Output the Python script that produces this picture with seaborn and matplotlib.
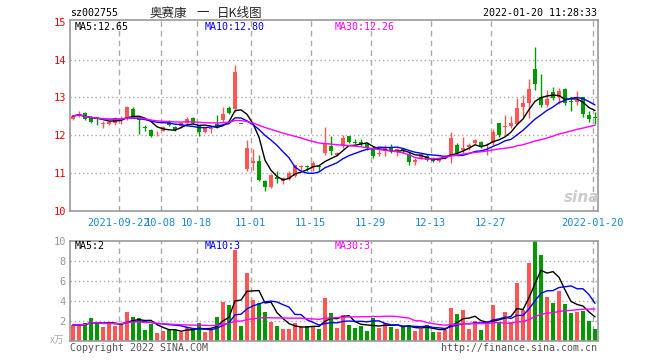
import numpy as np
import pandas as pd
import matplotlib
matplotlib.use('Agg')
import matplotlib.pyplot as plt
import seaborn as sns

# daily candles, oldest first
opens = [12.42, 12.54, 12.59, 12.45, 12.41, 12.30, 12.30, 12.32, 12.41, 12.45,
         12.70, 12.49, 12.21, 12.14, 12.02, 12.12, 12.38, 12.22, 12.24, 12.33,
         12.45, 12.27, 12.09, 12.17, 12.30, 12.40, 12.73, 12.69, 12.30, 11.10,
         11.27, 11.32, 10.79, 10.62, 10.88, 10.79, 10.83, 10.92, 11.17, 11.19,
         11.15, 11.18, 11.52, 11.71, 11.48, 11.72, 11.98, 11.83, 11.83, 11.79,
         11.65, 11.49, 11.58, 11.70, 11.56, 11.63, 11.49, 11.28, 11.39, 11.46,
         11.37, 11.32, 11.40, 11.48, 11.74, 11.61, 11.68, 11.80, 11.82, 11.73,
         11.78, 12.33, 12.21, 12.24, 12.29, 12.75, 12.84, 13.75, 13.02, 12.80,
         13.14, 13.02, 13.22, 12.90, 12.89, 13.02, 12.54, 12.47]
closes = [12.51, 12.56, 12.44, 12.36, 12.39, 12.32, 12.36, 12.45, 12.43, 12.74,
          12.49, 12.40, 12.19, 11.99, 12.04, 12.22, 12.27, 12.14, 12.33, 12.42,
          12.32, 12.09, 12.18, 12.19, 12.24, 12.56, 12.60, 13.66, 12.29, 11.65,
          11.32, 10.81, 10.62, 10.95, 10.84, 10.86, 11.01, 11.21, 11.19, 11.15,
          11.25, 11.16, 11.76, 11.59, 11.52, 11.93, 11.83, 11.79, 11.76, 11.67,
          11.46, 11.52, 11.67, 11.58, 11.63, 11.58, 11.28, 11.34, 11.49, 11.34,
          11.31, 11.38, 11.42, 11.93, 11.53, 11.65, 11.75, 11.87, 11.68, 11.75,
          12.09, 12.00, 12.25, 12.31, 12.73, 12.86, 13.23, 13.35, 12.80, 12.95,
          12.98, 13.16, 12.85, 12.88, 12.92, 12.56, 12.44, 12.46]
highs = [12.53, 12.64, 12.62, 12.50, 12.47, 12.38, 12.38, 12.48, 12.50, 12.77,
         12.74, 12.52, 12.28, 12.17, 12.10, 12.25, 12.40, 12.24, 12.36, 12.47,
         12.48, 12.27, 12.22, 12.25, 12.53, 12.75, 12.77, 13.86, 12.30, 11.87,
         11.63, 11.48, 10.80, 10.97, 11.06, 10.88, 11.04, 11.22, 11.22, 11.20,
         11.32, 11.22, 12.22, 11.98, 11.55, 12.00, 11.98, 11.90, 11.90, 11.79,
         11.72, 11.61, 11.74, 11.76, 11.65, 11.65, 11.55, 11.39, 11.52, 11.50,
         11.42, 11.40, 11.48, 12.09, 11.78, 11.96, 11.80, 11.89, 11.85, 11.78,
         12.17, 12.33, 12.54, 12.50, 12.98, 13.07, 13.50, 14.34, 13.61, 13.20,
         13.27, 13.24, 13.24, 13.02, 13.17, 13.02, 12.64, 12.62]
lows = [12.40, 12.47, 12.40, 12.32, 12.27, 12.20, 12.28, 12.28, 12.30, 12.40,
        12.45, 12.03, 12.12, 11.95, 11.97, 12.10, 12.25, 12.10, 12.20, 12.30,
        12.30, 11.98, 12.06, 12.05, 12.20, 12.36, 12.56, 12.62, 12.29, 11.06,
        11.08, 10.79, 10.53, 10.60, 10.74, 10.71, 10.80, 10.90, 11.06, 11.06,
        11.06, 11.06, 11.48, 11.48, 11.46, 11.65, 11.80, 11.77, 11.72, 11.62,
        11.39, 11.44, 11.44, 11.52, 11.46, 11.52, 11.21, 11.21, 11.36, 11.32,
        11.29, 11.28, 11.36, 11.27, 11.48, 11.52, 11.61, 11.77, 11.66, 11.48,
        11.74, 11.96, 12.00, 12.19, 12.29, 12.49, 12.46, 13.20, 12.75, 12.75,
        12.93, 12.82, 12.80, 12.64, 12.80, 12.49, 12.34, 12.29]
volumes = [1.57, 1.57, 1.73, 2.30, 1.80, 1.40, 1.80, 1.50, 1.60, 2.87,
           2.33, 2.23, 1.07, 1.67, 0.73, 0.97, 1.07, 1.07, 0.90, 1.33,
           1.13, 1.73, 0.90, 1.07, 2.33, 3.87, 3.57, 9.07, 1.47, 6.73,
           4.07, 3.73, 2.87, 1.87, 1.47, 1.17, 1.17, 1.73, 1.33, 1.47,
           1.47, 1.17, 4.27, 2.80, 1.30, 2.57, 1.57, 1.30, 1.47, 0.97,
           2.30, 1.30, 1.73, 1.40, 1.20, 1.40, 1.57, 1.00, 1.17, 1.57,
           0.90, 0.90, 1.07, 3.30, 2.67, 3.07, 1.20, 2.00, 1.07, 1.90,
           3.57, 1.90, 2.90, 1.90, 5.80, 3.07, 7.80, 9.97, 8.57, 4.40,
           3.80, 4.97, 3.67, 2.80, 2.90, 3.00, 2.00, 1.20]

tick_idx = [8, 15, 21, 30, 40, 50, 60, 70, 87]
tick_labels = ['2021-09-22', '10-08', '10-18', '11-01', '11-15',
               '11-29', '12-13', '12-27', '2022-01-20']
price_ticks = [10, 11, 12, 13, 14, 15]
vol_ticks = [2, 4, 6, 8, 10]

RED = '#ff5555'
GREEN = '#009900'
GRID = '#aaaaaa'
FRAME = '#999999'
CJK = ['Noto Sans CJK SC', 'DejaVu Sans']

sns.set_theme(style='white')
plt.rcParams['font.family'] = ['DejaVu Sans Mono', 'Noto Sans CJK SC']
plt.rcParams['font.size'] = 7.2

df = pd.DataFrame({'open': opens, 'close': closes, 'high': highs,
                   'low': lows, 'vol': volumes})
df['x'] = np.arange(len(df))
df['up'] = df['close'] >= df['open']
for n in (5, 10, 30):
    df[f'ma{n}'] = df['close'].rolling(n, min_periods=1).mean()
    df[f'vma{n}'] = df['vol'].rolling(n, min_periods=1).mean()
colors = np.where(df['up'], RED, GREEN)

W, H = 660, 360
fig = plt.figure(figsize=(6.6, 3.6), dpi=100)
ax = fig.add_axes([70 / W, 1 - 210.7 / H, 527.7 / W, 190.7 / H])
axv = fig.add_axes([70 / W, 1 - 340.7 / H, 527.7 / W, 100 / H])

xmax = len(df) - 1 + 0.45
for a in (ax, axv):
    a.set_xlim(-0.5, xmax)
    for t in tick_idx:
        a.axvline(t - 0.4, color=GRID, lw=1, ls=(0, (4, 3)), zorder=0)
    for s in a.spines.values():
        s.set_color(FRAME)
        s.set_linewidth(1.2)

ax.set_ylim(10, 15.05)
for yv in price_ticks[1:-1]:
    ax.axhline(yv, color=GRID, lw=1, ls=(0, (1, 2)), zorder=0)
axv.set_ylim(0, 10)
for yv in vol_ticks[:-1]:
    axv.axhline(yv, color=GRID, lw=1, ls=(0, (1, 2)), zorder=0)

# candles
body_lo = df[['open', 'close']].min(axis=1)
body_h = (df['close'] - df['open']).abs().clip(lower=0.022)
ax.vlines(df['x'], df['low'], df['high'], colors=colors, lw=1, zorder=2)
ax.bar(df['x'], body_h, bottom=body_lo, width=0.8, color=colors,
       linewidth=0, zorder=3)

for col, c in (('ma5', 'black'), ('ma10', 'blue'), ('ma30', 'magenta')):
    sns.lineplot(x=df['x'], y=df[col], ax=ax, color=c, lw=1, legend=False, zorder=4)

axv.bar(df['x'], df['vol'], width=0.8, color=colors, linewidth=0, zorder=2)
for col, c in (('vma5', 'black'), ('vma10', 'blue'), ('vma30', 'magenta')):
    sns.lineplot(x=df['x'], y=df[col], ax=axv, color=c, lw=1, legend=False, zorder=4)

for a in (ax, axv):
    a.set_xlabel('')
    a.set_ylabel('')

ax.set_yticks(price_ticks)
ax.set_yticklabels([str(v) for v in price_ticks], color='red', fontsize=7.5)
ax.set_xticks([t - 0.4 for t in tick_idx])
ax.set_xticklabels(tick_labels, color='#1a8ad4', fontsize=7.5)
ax.tick_params(axis='both', length=0)
ax.tick_params(axis='x', pad=5)
ax.tick_params(axis='y', pad=3)

axv.set_yticks(vol_ticks)
axv.set_yticklabels([str(v) for v in vol_ticks], color='#999999', fontsize=7.5)
axv.set_xticks([])
axv.tick_params(axis='both', length=0, pad=3)


def px(x, y):
    return x / W, 1 - y / H


last = df.iloc[-1]
fig.text(*px(70, 13), 'sz002755', ha='left', va='center', color='black')
fig.text(*px(150, 13), '奥赛康', ha='left', va='center', fontsize=9, family=CJK)
fig.text(*px(196, 13), '一', ha='left', va='center', fontsize=9, family=CJK)
fig.text(*px(217, 13), '日K线图', ha='left', va='center', fontsize=9, family=CJK)
fig.text(*px(597, 13), '2022-01-20 11:28:33', ha='right', va='center', color='black')

fig.text(*px(75, 27), f"MA5:{last['ma5']:.2f}", va='center', color='black')
fig.text(*px(205, 27), f"MA10:{last['ma10']:.2f}", va='center', color='blue')
fig.text(*px(335, 27), f"MA30:{last['ma30']:.2f}", va='center', color='magenta')

fig.text(*px(75, 246), f"MA5:{int(last['vma5'])}", va='center', color='black')
fig.text(*px(205, 246), f"MA10:{int(last['vma10'])}", va='center', color='blue')
fig.text(*px(335, 246), f"MA30:{int(last['vma30'])}", va='center', color='magenta')

fig.text(*px(50, 340), 'x万', va='center', ha='left', color='#aaaaaa', fontsize=7,
         family=CJK)
fig.text(*px(70, 348), 'Copyright 2022 SINA.COM', va='center', ha='left', color='#555555')
fig.text(*px(597, 348), 'http://finance.sina.com.cn', va='center', ha='right', color='#555555')
fig.text(*px(582, 197), 'sina', va='center', ha='center', color='#cccccc',
         fontsize=11, fontweight='bold', style='italic', family='DejaVu Sans')

fig.savefig('out.png', dpi=100, facecolor='white')
